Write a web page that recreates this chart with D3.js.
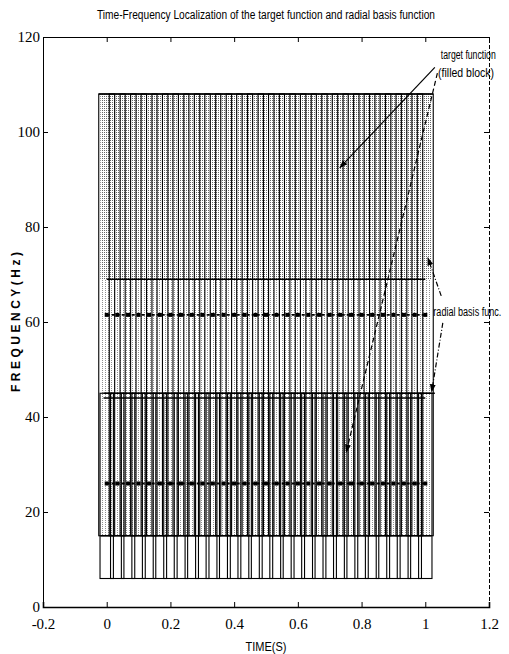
<!DOCTYPE html>
<html>
<head>
<meta charset="utf-8">
<script src="https://cdn.jsdelivr.net/npm/d3@7"></script>
<style>
  html, body { margin: 0; padding: 0; background: #fff; }
  svg { display: block; }
  .tick text { font-family: "Liberation Serif", "DejaVu Serif", serif; }
</style>
</head>
<body>
<div id="chart"></div>
<script>
// ---- data ------------------------------------------------------------------
const xTicks = [-0.2, 0, 0.2, 0.4, 0.6, 0.8, 1, 1.2];
const xTickLabels = ["-0.2", "0", "0.2", "0.4", "0.6", "0.8", "1", "1.2"];
const yTicks = [0, 20, 40, 60, 80, 100, 120];

// RBF centres in time (s)
const rbfTimes = [0.000, 0.033, 0.067, 0.100, 0.133, 0.167, 0.200, 0.233, 0.267, 0.300,
  0.333, 0.367, 0.400, 0.433, 0.467, 0.500, 0.533, 0.567, 0.600, 0.633,
  0.667, 0.700, 0.733, 0.767, 0.800, 0.833, 0.867, 0.900, 0.933, 0.967, 1.000];

// two rows of RBF boxes: low freq, high freq, centre freq, time half-width
const rbfRows = [
  { f0: 15, f1: 108, fc: 61.5, hw: 0.025 },
  { f0: 6, f1: 45, fc: 26, hw: 0.021 }
];

// target function filled block and lighter texture bands
const targetBlock = { t0: 0, t1: 1.0, f0: 69, f1: 108 };
const stippleBands = [
  { t0: -0.02, t1: 1.02, f0: 69, f1: 108, kind: "dark" },
  { t0: -0.02, t1: 1.02, f0: 45, f1: 69, kind: "light" },
  { t0: -0.02, t1: 1.02, f0: 15, f1: 45, kind: "light" }
];

// solid horizontal edges
const hLines = [
  { f: 69, t0: 0, t1: 1.0 },
  { f: 45, t0: -0.01, t1: 1.03 },
  { f: 44, t0: -0.01, t1: 1.0 },
  { f: 15, t0: -0.02, t1: 1.02 }
];

// annotations (data coords)
const labels = [
  { t: 1.135, f: 115.4, text: "target function", w: 55 },
  { t: 1.128, f: 111.6, text: "(filled block)", w: 56 },
  { t: 1.132, f: 61.3, text: "radial basis func.", w: 68 }
];
const arrows = [
  { t0: 1.03, f0: 113.6, t1: 0.732, f1: 92.5, dash: null },
  { t0: 1.038, f0: 112.4, t1: 0.752, f1: 32.6, dash: "5 3" },
  { t0: 1.05, f0: 65.5, t1: 1.008, f1: 73.5, dash: "5 2 1 2" },
  { t0: 1.055, f0: 59.8, t1: 1.02, f1: 45.3, dash: "5 2 1 2" }
];

// ---- layout ----------------------------------------------------------------
const W = 509, H = 654;
const m = { top: 37, right: 20, bottom: 47, left: 43 };

const svg = d3.select("#chart").append("svg").attr("width", W).attr("height", H);
const x = d3.scaleLinear().domain([-0.2, 1.2]).range([m.left, W - m.right]);
const y = d3.scaleLinear().domain([0, 120]).range([H - m.bottom, m.top]);

const defs = svg.append("defs");
function stipple(id, w, h, col) {
  const p = defs.append("pattern").attr("id", id).attr("patternUnits", "userSpaceOnUse")
    .attr("width", w).attr("height", h);
  p.append("rect").attr("x", 0).attr("y", 0).attr("width", 1).attr("height", 1).attr("fill", col);
}
stipple("st-dark", 2, 2, "#000");
stipple("st-light", 3, 2, "#222");

defs.append("marker").attr("id", "ah").attr("viewBox", "0 0 10 10")
  .attr("refX", 9).attr("refY", 5).attr("markerWidth", 7).attr("markerHeight", 7)
  .attr("orient", "auto")
  .append("path").attr("d", "M0,1.5 L10,5 L0,8.5 Z").attr("fill", "#000");

// title
svg.append("text").attr("x", 266).attr("y", 19).attr("text-anchor", "middle")
  .attr("font-family", "'Liberation Sans Narrow', 'Liberation Sans', Arial, sans-serif")
  .attr("font-size", 12).attr("textLength", 338).attr("lengthAdjust", "spacingAndGlyphs")
  .text("Time-Frequency Localization of the target function and radial basis function");

const plot = svg.append("g");

// stipple fill (target function block + texture)
plot.selectAll("rect.st").data(stippleBands).join("rect").attr("class", "st")
  .attr("x", d => x(d.t0)).attr("width", d => x(d.t1) - x(d.t0))
  .attr("y", d => y(d.f1)).attr("height", d => y(d.f0) - y(d.f1))
  .attr("fill", d => d.kind === "dark" ? "url(#st-dark)" : "url(#st-light)")
  .attr("opacity", d => d.kind === "dark" ? 0.6 : 0.5);

// RBF boxes
rbfRows.forEach((row, ri) => {
  plot.selectAll(`rect.rbf${ri}`).data(rbfTimes).join("rect").attr("class", `rbf${ri}`)
    .attr("x", t => x(t - row.hw)).attr("width", 2 * (x(row.hw) - x(0)))
    .attr("y", y(row.f1)).attr("height", y(row.f0) - y(row.f1))
    .attr("fill", "none").attr("stroke", "#000").attr("stroke-width", 1.1);

  // centre row: dashed line + markers
  plot.append("line")
    .attr("x1", x(rbfTimes[0])).attr("x2", x(rbfTimes[rbfTimes.length - 1]))
    .attr("y1", y(row.fc)).attr("y2", y(row.fc))
    .attr("stroke", "#000").attr("stroke-width", 1.8).attr("stroke-dasharray", "3 2");
  plot.selectAll(`rect.c${ri}`).data(rbfTimes).join("rect").attr("class", `c${ri}`)
    .attr("x", t => x(t) - 2).attr("y", y(row.fc) - 2)
    .attr("width", 4).attr("height", 4).attr("fill", "#000");
});

// solid horizontal edges
plot.selectAll("line.h").data(hLines).join("line").attr("class", "h")
  .attr("x1", d => x(d.t0)).attr("x2", d => x(d.t1))
  .attr("y1", d => y(d.f)).attr("y2", d => y(d.f))
  .attr("stroke", "#000").attr("stroke-width", 1.4);

// target block top edge
plot.append("line").attr("x1", x(targetBlock.t0 - 0.025)).attr("x2", x(targetBlock.t1 + 0.025))
  .attr("y1", y(targetBlock.f1)).attr("y2", y(targetBlock.f1))
  .attr("stroke", "#000").attr("stroke-width", 1.4);

// axes (MATLAB style: box, ticks inside)
const ax = svg.append("g").attr("fill", "none");
ax.append("g").attr("transform", `translate(0,${y(0)})`)
  .call(d3.axisBottom(x).tickValues(xTicks).tickFormat((d, i) => xTickLabels[i]).tickSize(-5).tickPadding(11))
  .call(g => g.select(".domain").attr("stroke-width", 1.6));
ax.append("g").attr("transform", `translate(0,${y(120)})`)
  .call(d3.axisTop(x).tickValues(xTicks).tickSize(-5).tickFormat(""));
ax.append("g").attr("transform", `translate(${x(-0.2)},0)`)
  .call(d3.axisLeft(y).tickValues(yTicks).tickSize(-5).tickPadding(3));
ax.append("g").attr("transform", `translate(${x(1.2)},0)`)
  .call(d3.axisRight(y).tickValues(yTicks).tickSize(-5).tickFormat(""))
  .call(g => g.select(".domain").attr("stroke-dasharray", "4 2"));
ax.selectAll(".tick text").attr("font-size", 15).attr("fill", "#000");
ax.selectAll(".domain").attr("stroke", "#000");
ax.selectAll(".tick line").attr("stroke", "#000");

// axis labels
svg.append("text").attr("transform", `translate(20,${y(60)}) rotate(-90)`)
  .attr("text-anchor", "middle").attr("font-family", "'Liberation Sans', Arial, sans-serif")
  .attr("font-size", 12).attr("font-weight", "bold").attr("textLength", 140).attr("lengthAdjust", "spacing")
  .text("FREQUENCY(Hz)");
svg.append("text").attr("x", 266).attr("y", 651).attr("text-anchor", "middle")
  .attr("font-family", "'Liberation Sans Narrow', 'Liberation Sans', Arial, sans-serif")
  .attr("font-size", 12).attr("textLength", 41).attr("lengthAdjust", "spacingAndGlyphs").text("TIME(S)");

// annotations
svg.selectAll("line.arw").data(arrows).join("line").attr("class", "arw")
  .attr("x1", d => x(d.t0)).attr("y1", d => y(d.f0))
  .attr("x2", d => x(d.t1)).attr("y2", d => y(d.f1))
  .attr("stroke", "#000").attr("stroke-width", 1.2)
  .attr("stroke-dasharray", d => d.dash)
  .attr("marker-end", "url(#ah)");
svg.selectAll("text.lab").data(labels).join("text").attr("class", "lab")
  .attr("x", d => x(d.t)).attr("y", d => y(d.f)).attr("text-anchor", "middle")
  .attr("font-family", "'Liberation Sans Narrow', 'Liberation Sans', Arial, sans-serif")
  .attr("font-size", 12).attr("textLength", d => d.w).attr("lengthAdjust", "spacingAndGlyphs")
  .text(d => d.text);
</script>
</body>
</html>
